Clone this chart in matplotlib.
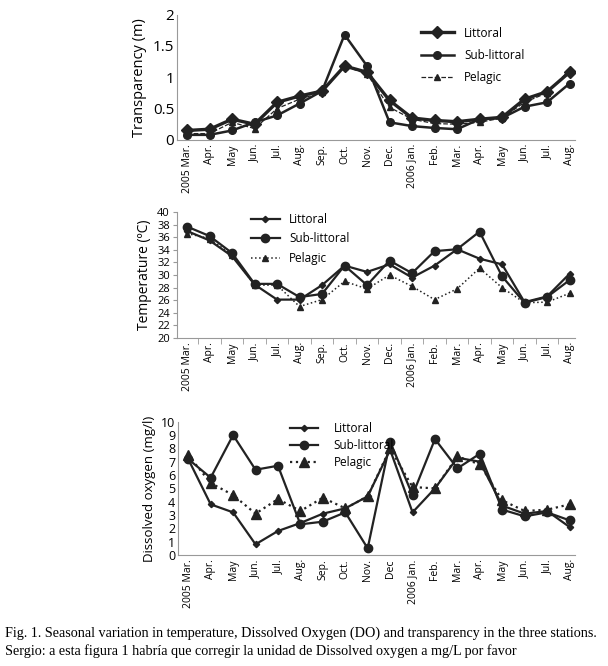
import matplotlib.pyplot as plt
import numpy as np

plt.rcParams['font.family'] = ['Open Sans', 'DejaVu Sans']

months = ['2005 Mar.', 'Apr.', 'May', 'Jun.', 'Jul.', 'Aug.', 'Sep.', 'Oct.', 'Nov.',
          'Dec.', '2006 Jan.', 'Feb.', 'Mar.', 'Apr.', 'May', 'Jun.', 'Jul.', 'Aug.']
months_do = months[:9] + ['Dec'] + months[10:]

# transparency (m)
tr_littoral = [0.15, 0.17, 0.33, 0.25, 0.60, 0.70, 0.78, 1.18, 1.08, 0.63, 0.35, 0.31,
               0.29, 0.33, 0.36, 0.65, 0.77, 1.08]
tr_sublittoral = [0.08, 0.08, 0.15, 0.28, 0.39, 0.58, 0.78, 1.68, 1.18, 0.28, 0.22, 0.19,
                  0.17, 0.33, 0.35, 0.53, 0.60, 0.90]
tr_pelagic = [0.10, 0.10, 0.28, 0.18, 0.50, 0.65, 0.76, 1.18, 1.05, 0.52, 0.33, 0.26,
              0.25, 0.28, 0.35, 0.60, 0.75, 1.12]

# temperature (C)
t_littoral = [37.0, 35.5, 33.0, 28.5, 26.1, 26.1, 28.4, 31.5, 30.5, 31.7, 29.6, 31.5,
              34.1, 32.6, 31.7, 25.7, 26.6, 30.2]
t_sublittoral = [37.7, 36.2, 33.5, 28.6, 28.6, 26.5, 27.0, 31.5, 28.4, 32.3, 30.3, 33.8,
                 34.1, 36.9, 29.8, 25.6, 26.5, 29.2]
t_pelagic = [36.6, 35.8, 33.2, 28.4, 28.4, 25.0, 26.1, 29.0, 27.8, 30.0, 28.2, 26.1,
             27.8, 31.1, 28.0, 25.6, 25.7, 27.1]

# dissolved oxygen (mg/l)
do_littoral = [7.2, 3.8, 3.2, 0.8, 1.8, 2.4, 3.1, 3.5, 4.4, 7.9, 3.2, 5.0,
               7.3, 7.0, 3.7, 3.1, 3.3, 2.1]
do_sublittoral = [7.2, 5.8, 9.0, 6.4, 6.7, 2.3, 2.5, 3.2, 0.5, 8.5, 4.5, 8.7,
                  6.5, 7.6, 3.4, 2.9, 3.2, 2.6]
do_pelagic = [7.5, 5.4, 4.5, 3.1, 4.2, 3.3, 4.3, 3.5, 4.4, 8.0, 5.1, 5.0,
              7.4, 6.8, 4.1, 3.3, 3.4, 3.8]

x = np.arange(len(months))
lc = '#222222'

fig = plt.figure(figsize=(6.08, 6.66), dpi=100)


def style_axes(ax, labels, ylabel, ysize, xticks_marks, lsize=10.5):
    for s in ['top', 'right']:
        ax.spines[s].set_visible(False)
    for s in ['left', 'bottom']:
        ax.spines[s].set_color('#999999')
        ax.spines[s].set_linewidth(0.8)
    ax.set_xlim(-0.45, 17.25)
    ax.set_xticks(x)
    ax.set_xticklabels(labels, rotation=90, fontsize=7.5, va='top', ha='center')
    ax.tick_params(axis='x', length=0, pad=3)
    if xticks_marks:
        ax.set_xticks(x[:-1] + 0.5, minor=True)
        ax.tick_params(axis='x', which='minor', length=4, color='#999999')
    ax.tick_params(axis='y', labelsize=ysize, length=3 if xticks_marks else 0,
                   color='#999999', pad=2)
    ax.set_ylabel(ylabel, fontsize=lsize, labelpad=4)


# transparency
ax1 = fig.add_axes([0.291, 0.790, 0.655, 0.188])
ax1.plot(x, tr_littoral, color=lc, lw=2.4, marker='D', ms=6, label='Littoral')
ax1.plot(x, tr_sublittoral, color=lc, lw=1.8, marker='o', ms=5.5, label='Sub-littoral')
ax1.plot(x, tr_pelagic, color=lc, lw=0.9, ls='--', marker='^', ms=4.5, label='Pelagic')
ax1.set_ylim(0, 2)
ax1.set_yticks([0, 0.5, 1, 1.5, 2])
ax1.set_yticklabels(['0', '0.5', '1', '1.5', '2'])
style_axes(ax1, months, 'Transparency (m)', 11, False)
ax1.legend(loc='upper right', bbox_to_anchor=(0.9, 0.99), frameon=False, fontsize=8.5,
           handlelength=2.8, labelspacing=0.8, handletextpad=0.9)

# temperature
ax2 = fig.add_axes([0.291, 0.4925, 0.655, 0.189])
ax2.plot(x, t_littoral, color=lc, lw=1.6, marker='D', ms=3.2, label='Littoral')
ax2.plot(x, t_sublittoral, color=lc, lw=1.6, marker='o', ms=6, label='Sub-littoral')
ax2.plot(x, t_pelagic, color=lc, lw=1.1, ls=':', marker='^', ms=4.5, label='Pelagic')
ax2.set_ylim(20, 40)
ax2.set_yticks(np.arange(20, 41, 2))
style_axes(ax2, months, 'Temperature (ºC)', 8, True, 10)
ax2.legend(loc='upper left', bbox_to_anchor=(0.16, 1.08), frameon=False, fontsize=8.5,
           handlelength=2.4, labelspacing=0.55, handletextpad=0.8)

# dissolved oxygen
ax3 = fig.add_axes([0.293, 0.1667, 0.653, 0.200])
ax3.plot(x, do_littoral, color=lc, lw=1.6, marker='D', ms=3.2, label='Littoral')
ax3.plot(x, do_sublittoral, color=lc, lw=1.6, marker='o', ms=6, label='Sub-littoral')
ax3.plot(x, do_pelagic, color=lc, lw=1.6, ls=':', marker='^', ms=7.5, label='Pelagic')
ax3.set_ylim(0, 10)
ax3.set_yticks(np.arange(0, 11, 1))
style_axes(ax3, months_do, 'Dissolved oxygen (mg/l)', 9, False, 9.5)
ax3.legend(loc='upper left', bbox_to_anchor=(0.255, 1.08), frameon=False, fontsize=8.5,
           handlelength=2.4, labelspacing=0.35, handletextpad=1.3)

fig.text(0.008, 0.049, 'Fig. 1. Seasonal variation in temperature, Dissolved Oxygen (DO) '
         'and transparency in the three stations.', fontsize=10.2, family='Liberation Serif',
         va='center')
fig.text(0.008, 0.023, 'Sergio: a esta figura 1 habría que corregir la unidad de Dissolved '
         'oxygen a mg/L por favor', fontsize=10.2, family='Liberation Serif', va='center')

fig.savefig('out.png', dpi=100)
